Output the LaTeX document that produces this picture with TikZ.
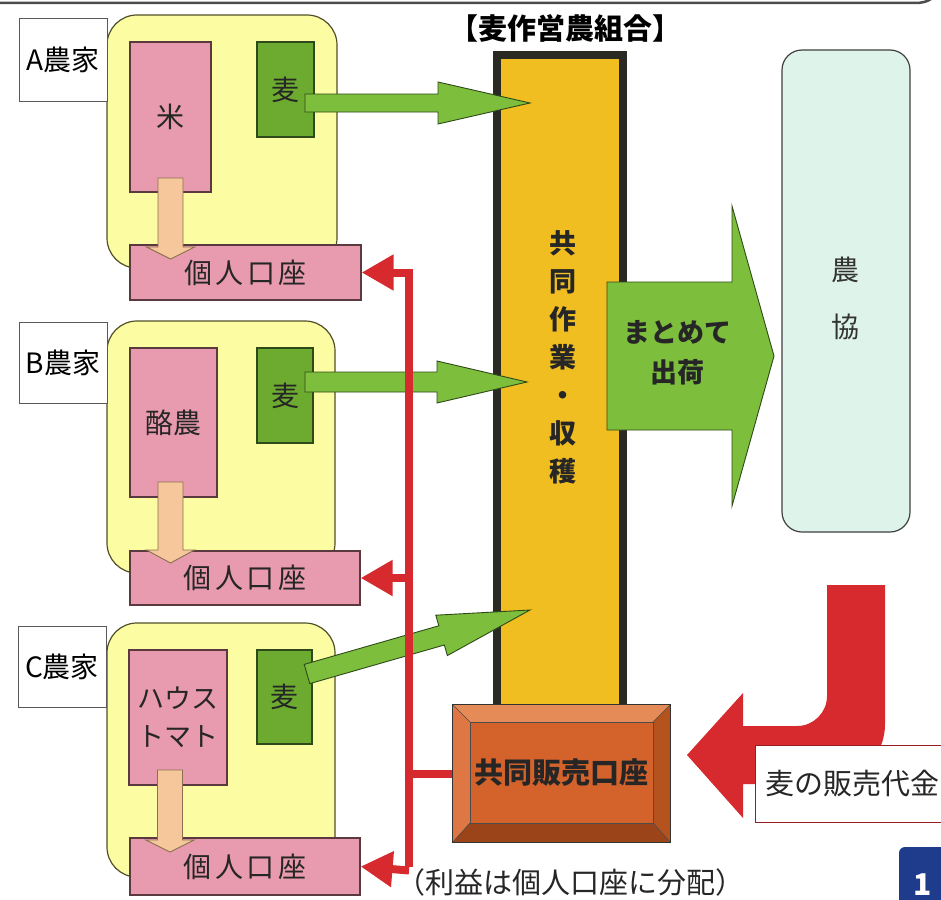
\documentclass[tikz,border=0pt]{standalone}
\usepackage{fontspec}
\setmainfont{Noto Sans CJK JP}
\usetikzlibrary{calc,arrows.meta}
\definecolor{yel}{HTML}{FCFCA2}
\definecolor{yelline}{HTML}{4F5028}
\definecolor{pinkf}{HTML}{E89AAE}
\definecolor{pinkl}{HTML}{5A3A3E}
\definecolor{grbox}{HTML}{6CAB2F}
\definecolor{grline}{HTML}{2F4A1A}
\definecolor{grarr}{HTML}{7DBE3C}
\definecolor{tanf}{HTML}{F6C79A}
\definecolor{tanl}{HTML}{8A7050}
\definecolor{colf}{HTML}{F1BE22}
\definecolor{coll}{HTML}{2A2A22}
\definecolor{redc}{HTML}{D62A2E}
\definecolor{mint}{HTML}{DEF3EA}
\definecolor{brmain}{HTML}{D4622B}
\definecolor{brtop}{HTML}{E58B58}
\definecolor{brleft}{HTML}{DE7743}
\definecolor{brright}{HTML}{B5531F}
\definecolor{brbot}{HTML}{9C4419}
\definecolor{badge}{HTML}{1F3C8C}
\newcommand\blockarrow[6]{%
  \path (#2) coordinate (baS) (#3) coordinate (baE);
  \pgfpointdiff{\pgfpointanchor{baS}{center}}{\pgfpointanchor{baE}{center}}%
  \pgfgetlastxy\badx\bady
  \pgfmathsetmacro\baA{atan2(\bady,\badx)}%
  \pgfmathsetmacro\baL{veclen(\badx,\bady)}%
  \begin{scope}[shift={(baS)},rotate=\baA,x=1pt,y=1pt]
    \filldraw[#1] (0,#4) -- ({\baL-#6},#4) -- ({\baL-#6},#5) -- (\baL,0)
      -- ({\baL-#6},-#5) -- ({\baL-#6},-#4) -- (0,-#4) -- cycle;
  \end{scope}}
\tikzset{
  bx/.style={rectangle,inner sep=0pt,anchor=center},
  lab/.style={bx,draw=black!65,fill=white,line width=1pt,font=\fontsize{28}{30}\selectfont},
  yelbox/.style={bx,draw=yelline,fill=yel,line width=1.2pt,rounded corners=30pt},
  pinkbox/.style={bx,draw=pinkl,fill=pinkf,line width=1.2pt,font=\fontsize{28}{38}\selectfont,text=black!85,align=center},
  kozabox/.style={pinkbox,font=\fontsize{28}{30}\selectfont\addfontfeatures{LetterSpace=12}},
  greenbox/.style={bx,draw=grline,fill=grbox,line width=1.2pt,font=\fontsize{28}{30}\selectfont,text=black!85},
  grarrow/.style={fill=grarr,draw=grline,line width=0.9pt,line join=miter},
  tanarrow/.style={fill=tanf,draw=tanl,line width=0.9pt},
  redline/.style={draw=redc,line width=8pt},
  redtip/.style={-{Triangle[length=32pt,width=34pt]}},
  txt/.style={inner sep=0pt,anchor=center,font=\fontsize{29}{30}\selectfont}
}
\begin{document}
\begin{tikzpicture}[x=1pt,y=-1pt]
\useasboundingbox (0,0) rectangle (941,899);
% top frame edge
\draw[black!70,line width=2.5pt] (-5,3) -- (915,3) .. controls (928,3) and (936,-2) .. (938,-12);

% farm A
\node[yelbox,minimum width=230pt,minimum height=253pt] (yelA) at (222,141.5) {};
\node[lab,minimum width=88pt,minimum height=82pt] (labA) at (63,60) {A農家};
\node[pinkbox,minimum width=81pt,minimum height=150pt] (komeA) at (170.5,117) {米};
\node[greenbox,minimum width=57pt,minimum height=95pt] (mugiA) at (285.5,89.5) {麦};
\node[kozabox,minimum width=231pt,minimum height=55pt] (kozaA) at (245.5,272.5) {個人口座};
% farm B
\node[yelbox,minimum width=228pt,minimum height=252pt] (yelB) at (221,447) {};
\node[lab,minimum width=88pt,minimum height=81pt] (labB) at (63,362.5) {B農家};
\node[pinkbox,minimum width=87pt,minimum height=149pt] (rakuB) at (173.5,422.5) {酪農};
\node[greenbox,minimum width=56pt,minimum height=95pt] (mugiB) at (285,395.5) {麦};
\node[kozabox,minimum width=230pt,minimum height=54pt] (kozaB) at (245,578) {個人口座};
% farm C
\node[yelbox,minimum width=228pt,minimum height=254pt] (yelC) at (221,750) {};
\node[lab,minimum width=88pt,minimum height=81pt] (labC) at (62,666.5) {C農家};
\node[pinkbox,minimum width=98pt,minimum height=135pt,font=\fontsize{27}{38}\selectfont] (houseC) at (178,717.5) {ハウス\\トマト};
\node[greenbox,minimum width=55pt,minimum height=94pt] (mugiC) at (284.5,697) {麦};
\node[kozabox,minimum width=230pt,minimum height=57pt] (kozaC) at (245,866.5) {個人口座};

% tan arrows
\coordinate (tA1) at (170.5,178); \coordinate (tA2) at (170.5,259);
\coordinate (tB1) at (170.5,482); \coordinate (tB2) at (170.5,563);
\coordinate (tC1) at (170,770);   \coordinate (tC2) at (170,852);
\blockarrow{tanarrow}{tA1}{tA2}{12.5}{24}{12}
\blockarrow{tanarrow}{tB1}{tB2}{12.5}{24}{13}
\blockarrow{tanarrow}{tC1}{tC2}{12.5}{24}{12}

% title
\node[txt,font=\fontsize{29}{30}\selectfont\bfseries] (title) at (565,28) {【麦作営農組合】};

% column
\node[bx,draw=coll,fill=colf,line width=8pt,minimum width=126pt,minimum height=665pt] (col) at (560,387.5) {};
\node[txt,align=center,font=\fontsize{27}{38}\selectfont\bfseries,text=black!85] (colt) at (563,357) {共\\同\\作\\業\\・\\収\\穫};

% green arrows
\coordinate (gA1) at (305,103); \coordinate (gA2) at (530,103);
\coordinate (gB1) at (305,382); \coordinate (gB2) at (527,382);
\coordinate (gC1) at (307,674); \coordinate (gC2) at (530,610);
\blockarrow{grarrow}{gA1}{gA2}{9}{21}{92}
\blockarrow{grarrow}{gB1}{gB2}{10}{21}{90}
\blockarrow{grarrow}{gC1}{gC2}{10}{21}{92}

% shipping arrow
\coordinate (sh1) at (607,356); \coordinate (sh2) at (774,356);
\blockarrow{grarrow}{sh1}{sh2}{74}{150}{42}
\node[txt,align=center,font=\fontsize{27}{40}\selectfont\bfseries,text=black!85] (shukka) at (677,353) {まとめて\\出荷};

% nokyo
\node[bx,draw=black!75,fill=mint,line width=1.2pt,rounded corners=20pt,minimum width=128pt,minimum height=482pt] (nokyo) at (846,291) {};
\node[txt,align=center,font=\fontsize{28}{57}\selectfont,text=black!80] (nokyot) at (845,298.5) {農\\協};

% joint sales account box
\node[bx,draw=black!80,fill=brmain,line width=1.2pt,minimum width=217pt,minimum height=137pt] (hanbai) at (561.5,773.5) {};
\fill[brtop] (hanbai.north west) -- (hanbai.north east) -- (653,722) -- (470,722) -- cycle;
\fill[brleft] (hanbai.north west) -- (470,722) -- (470,823) -- (hanbai.south west) -- cycle;
\fill[brright] (hanbai.north east) -- (hanbai.south east) -- (653,823) -- (653,722) -- cycle;
\fill[brbot] (hanbai.south west) -- (470,823) -- (653,823) -- (hanbai.south east) -- cycle;
\draw[black!70,line width=0.8pt] (470,722) rectangle (653,823);
\draw[black!70,line width=0.6pt] (hanbai.north west) -- (470,722) (hanbai.north east) -- (653,722) (hanbai.south west) -- (470,823) (hanbai.south east) -- (653,823);
\draw[black!80,line width=1.2pt] (hanbai.north west) rectangle (hanbai.south east);
\node[txt,font=\fontsize{29}{30}\selectfont\bfseries,text=black!85] (hanbait) at (561,773) {共同販売口座};

% red distribution lines
\coordinate (rx) at (409,0);
\draw[redline] (hanbai.west) -- (hanbai.west -| rx);
\draw[redline,redtip] (kozaC.east -| rx) -- (kozaA.east -| rx) -- (kozaA.east);
\draw[redline,redtip] (kozaB.east -| rx) -- (kozaB.east);
\draw[redline,redtip] ([yshift=-4pt]kozaC.east -| rx) -- (kozaC.east);

% red payment arrow
\fill[redc] (827,585) -- (885,585) -- (885,724) .. controls (885,757) and (858,784) .. (825,784)
  -- (743,784) -- (743,818) -- (687,755) -- (743,693) -- (743,726) -- (797,726)
  .. controls (813.5,726) and (827,712.5) .. (827,696) -- cycle;
\node[bx,draw=redc!70!black,fill=white,line width=1pt,minimum width=200pt,minimum height=77pt] (dai) at (855,783.5) {};
\node[txt,text=black!85] (daitxt) at (852,783) {麦の販売代金};

% note
\node[txt,text=black!85] (note) at (570,882) {（利益は個人口座に分配）};

% badge
\node[bx,fill=badge,rounded corners=6pt,minimum width=60pt,minimum height=70pt] (badge) at (929,882) {};
\node[txt,text=white,font=\fontsize{30}{32}\selectfont\bfseries] (badget) at (923,885) {1};
\end{tikzpicture}
\end{document}
